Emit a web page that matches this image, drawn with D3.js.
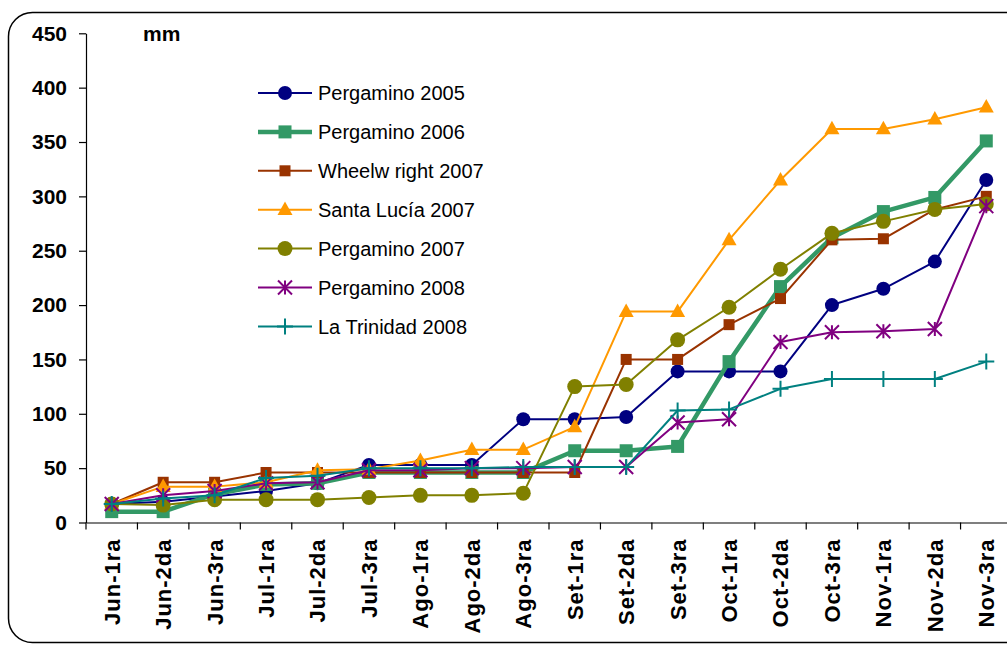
<!DOCTYPE html>
<html><head><meta charset="utf-8">
<script src="https://cdn.jsdelivr.net/npm/d3@7"></script>
<style>body{margin:0;background:#fff;} svg{display:block;font-family:"Liberation Sans",Arial,sans-serif;}</style>
</head><body>
<svg id="c" width="1007" height="646"></svg>
<script>
const categories = ["Jun-1ra","Jun-2da","Jun-3ra","Jul-1ra","Jul-2da","Jul-3ra","Ago-1ra","Ago-2da","Ago-3ra","Set-1ra","Set-2da","Set-3ra","Oct-1ra","Oct-2da","Oct-3ra","Nov-1ra","Nov-2da","Nov-3ra"];
const yTicks = [0,50,100,150,200,250,300,350,400,450];
const seriesNames = ["Pergamino 2005","Pergamino 2006","Wheelw right 2007","Santa Lucía 2007","Pergamino 2007","Pergamino 2008","La Trinidad 2008"];
const pergamino2005 = [17,19,24,29,36,53,53,53,95,95,97,139,139,139,200,215,240,315];
const pergamino2006 = [10,10,26,35,36,46,46,46,46,66,66,70,148,217,262,286,299,351];
const wheelwright2007 = [17,37,37,46,46,46,46,46,46,46,150,150,182,206,260,261,288,300];
const santaLucia2007 = [17,33,33,37,48,49,57,67,67,88,194,194,260,315,362,362,371,382];
const pergamino2007 = [17,16,21,21,21,23,25,25,27,125,127,168,198,233,266,277,288,293];
const pergamino2008 = [17,25,29,36,37,48,48,50,50,51,51,92,95,166,175,176,178,291];
const laTrinidad2008 = [17,22,25,41,43,50,50,50,51,51,51,103,104,123,132,132,132,148];
const seriesValues = [pergamino2005,pergamino2006,wheelwright2007,santaLucia2007,pergamino2007,pergamino2008,laTrinidad2008];

const styles = [
  {color:"#000080", width:2, marker:"circle", size:7},
  {color:"#339966", width:4.5, marker:"square", size:13},
  {color:"#993300", width:2, marker:"square", size:11},
  {color:"#FF9900", width:2, marker:"triangle", size:15},
  {color:"#808000", width:2, marker:"circle", size:7.5},
  {color:"#800080", width:2, marker:"star", size:7},
  {color:"#008080", width:2, marker:"plus", size:8}
];

const svg = d3.select("#c");
svg.append("rect").attr("x",8.5).attr("y",12.5).attr("width",1040).attr("height",630)
  .attr("rx",24).attr("fill","#fff").attr("stroke","#000").attr("stroke-width",1.5);

const pLeft = 86, pRight = 1012, pTop = 33.3, pBottom = 522.5;
const x = d3.scaleBand().domain(categories).range([pLeft,pRight]);
const y = d3.scaleLinear().domain([0,450]).range([pBottom,pTop]);

const ya = svg.append("g").attr("transform",`translate(${pLeft},0)`)
  .call(d3.axisLeft(y).tickValues(yTicks).tickSize(7).tickPadding(12).tickSizeOuter(0));
ya.select(".domain").attr("stroke","#000").attr("stroke-width",1.2);
ya.selectAll(".tick line").attr("stroke","#000").attr("stroke-width",1.2);
ya.selectAll(".tick text").attr("font-size",21).attr("font-weight","bold").attr("fill","#000")
  .attr("font-family","Liberation Sans, Arial, sans-serif");

const xa = svg.append("g").attr("transform",`translate(0,${pBottom})`)
  .call(d3.axisBottom(x).tickSize(0).tickSizeOuter(0));
xa.select(".domain").attr("stroke","#000").attr("stroke-width",1.2);
const bounds = categories.map(c=>x(c));
xa.selectAll("line.bt").data(bounds).enter().append("line").attr("class","bt")
  .attr("x1",d=>d).attr("x2",d=>d).attr("y1",0).attr("y2",7).attr("stroke","#000").attr("stroke-width",1.2);
xa.selectAll(".tick text")
  .attr("font-size",22).attr("font-weight","bold").attr("fill","#000")
  .attr("letter-spacing","1px")
  .attr("font-family","Liberation Sans, Arial, sans-serif")
  .attr("text-anchor","end").attr("dy","0.36em").attr("y",0).attr("x",-16)
  .attr("transform","rotate(-90)");

svg.append("text").attr("x",143).attr("y",41).attr("font-size",21).attr("font-weight","bold").text("mm");

function drawMarker(g, st, cx, cy){
  const s = st.size;
  if(st.marker==="circle"){
    g.append("circle").attr("cx",cx).attr("cy",cy).attr("r",s).attr("fill",st.color);
  } else if(st.marker==="square"){
    g.append("rect").attr("x",cx-s/2).attr("y",cy-s/2).attr("width",s).attr("height",s).attr("fill",st.color);
  } else if(st.marker==="triangle"){
    const h = s*0.9;
    g.append("path").attr("d",`M${cx},${cy-h*0.6}L${cx+s/2},${cy+h*0.4}L${cx-s/2},${cy+h*0.4}Z`).attr("fill",st.color);
  } else if(st.marker==="star"){
    g.append("path").attr("d",`M${cx-s},${cy-s}L${cx+s},${cy+s}M${cx-s},${cy+s}L${cx+s},${cy-s}M${cx},${cy-s}L${cx},${cy+s}`)
      .attr("stroke",st.color).attr("stroke-width",2).attr("fill","none");
  } else if(st.marker==="plus"){
    g.append("path").attr("d",`M${cx-s},${cy}L${cx+s},${cy}M${cx},${cy-s}L${cx},${cy+s}`)
      .attr("stroke",st.color).attr("stroke-width",2).attr("fill","none");
  }
}

const line = d3.line().x((d,i)=>x(categories[i])+x.bandwidth()/2).y(d=>y(d));
seriesValues.forEach((vals,si)=>{
  const st = styles[si];
  const g = svg.append("g");
  g.append("path").datum(vals).attr("d",line).attr("fill","none").attr("stroke",st.color)
    .attr("stroke-width",st.width).attr("stroke-linejoin","round");
  vals.forEach((v,i)=>drawMarker(g, st, x(categories[i])+x.bandwidth()/2, y(v)));
});

const lg = svg.append("g");
seriesNames.forEach((name,i)=>{
  const st = styles[i];
  const ly = 93 + i*38.9;
  lg.append("line").attr("x1",258).attr("x2",312).attr("y1",ly).attr("y2",ly)
    .attr("stroke",st.color).attr("stroke-width",st.width);
  drawMarker(lg, st, 285, ly);
  lg.append("text").attr("x",318).attr("y",ly).attr("dy","0.36em").attr("font-size",20).attr("fill","#000").text(name);
});
</script>
</body></html>
